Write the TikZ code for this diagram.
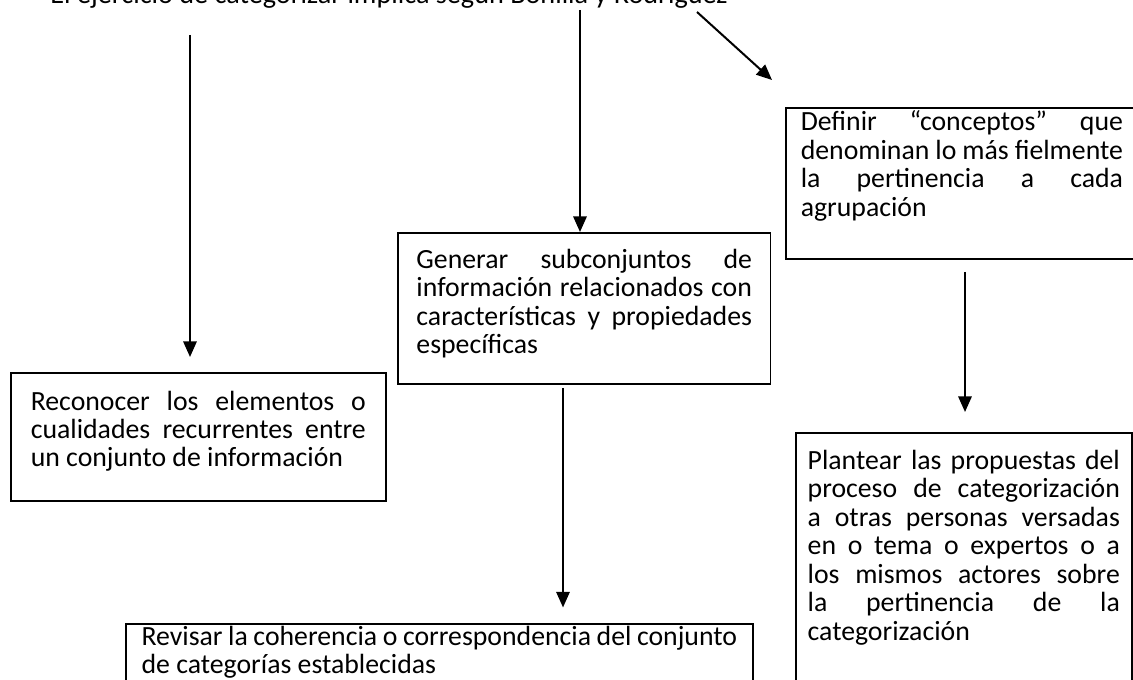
\documentclass[tikz,border=0pt]{standalone}
\usepackage{fontspec}
\setmainfont{Carlito}
\usetikzlibrary{arrows.meta}

\tikzset{
	caja/.style={draw, line width=0.7pt, anchor=north west, inner xsep=9pt, inner ysep=0pt,
		font=\fontsize{12.5}{12.8}\selectfont},
	flecha/.style={-{Triangle[length=7pt,width=6pt]}, line width=0.9pt},
}
% box text: width, height, first baseline, text
\newcommand{\textocaja}[4]{\parbox[c][#2][t]{#1}{\hyphenpenalty=10000\rule{0pt}{#3}#4}}

\begin{document}
\begin{tikzpicture}[x=0.45pt,y=-0.45pt]
	\useasboundingbox (0,0) rectangle (1133,680);

	\node[anchor=base west, inner sep=0pt, font=\fontsize{12.7}{12.8}\selectfont] (titulo) at (50,4)
		{El ejercicio de categorizar implica según Bonilla y Rodríguez};

	\node[caja] (reco) at (10,372) {\textocaja{150.75pt}{57.6pt}{16.8pt}{Reconocer los elementos o\linebreak
		cualidades recurrentes entre\linebreak un conjunto de información}};
	\node[caja, inner xsep=8.4pt] (gene) at (397,232) {\textocaja{151pt}{68pt}{16pt}{Generar subconjuntos de\linebreak
		información relacionados con\linebreak características y propiedades\linebreak específicas}};
	\node[caja, inner xsep=6.75pt] (defi) at (785,107) {\textocaja{145pt}{68pt}{10.4pt}{Definir “conceptos” que\linebreak
		denominan lo más fielmente\linebreak la pertinencia a cada\linebreak agrupación}};
	\node[caja, inner xsep=5.35pt] (plan) at (795,432) {\textocaja{140.5pt}{117pt}{16.5pt}{Plantear las propuestas del\linebreak
		proceso de categorización\linebreak a otras personas versadas\linebreak en o tema o expertos o a\linebreak
		los mismos actores sobre\linebreak la pertinencia de la\linebreak categorización}};
	\node[caja, inner xsep=7.1pt] (revi) at (125,623) {\textocaja{268pt}{40pt}{9.6pt}{Revisar la coherencia o correspondencia del conjunto\\
		de categorías establecidas}};

	\coordinate (a1) at (190,35);
	\draw[flecha, shorten >=6.75pt] (a1) -- (a1 |- reco.north);
	\coordinate (b1) at (580,10);
	\draw[flecha] (b1) -- (b1 |- gene.north);
	\coordinate (c1) at (697,12);
	\coordinate (c2) at (772,80);
	\draw[flecha] (c1) -- (c2);
	\coordinate (d1) at (965,272);
	\draw[flecha, shorten >=9pt] (d1) -- (d1 |- plan.north);
	\coordinate (e1) at (563,388);
	\draw[flecha, shorten >=7pt] (e1) -- (e1 |- revi.north);
\end{tikzpicture}
\end{document}
